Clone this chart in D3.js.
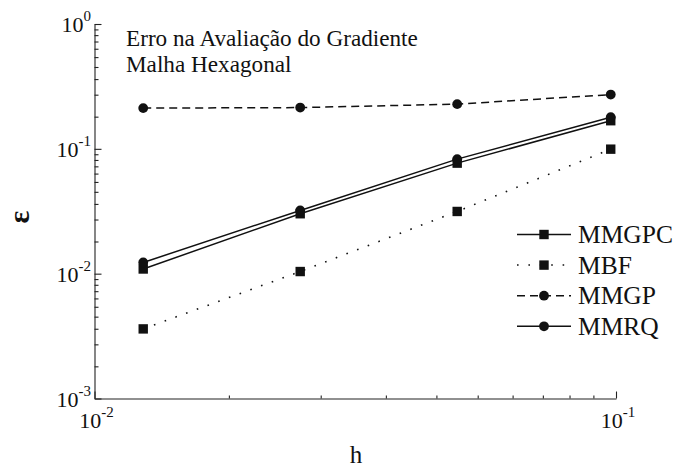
<!DOCTYPE html>
<html>
<head>
<meta charset="utf-8">
<script src="https://cdnjs.cloudflare.com/ajax/libs/d3/7.8.5/d3.min.js"></script>
<style>
  body { margin: 0; background: #fff; }
  svg { display: block; }
</style>
</head>
<body>
<svg width="675" height="468"></svg>
<script>
// data
var hValues = [0.0124, 0.0248, 0.0496, 0.0977];
var mmgpc = [0.0109, 0.0302, 0.0768, 0.168];
var mbf = [0.00361, 0.0104, 0.0315, 0.0994];
var mmgp = [0.212, 0.214, 0.228, 0.272];
var mmrq = [0.0123, 0.0321, 0.0827, 0.179];

var seriesNames = ['MMGPC', 'MBF', 'MMGP', 'MMRQ'];
var xMajor = [1e-2, 1e-1];
var yMajor = [1e-3, 1e-2, 1e-1, 1];
var xExp = ['-2', '-1'];
var yExp = ['-3', '-2', '-1', '0'];
var titleLines = ['Erro na Avaliação do Gradiente', 'Malha Hexagonal'];

var svg = d3.select('svg'),
    font = "'Liberation Serif', 'Times New Roman', Tinos, 'DejaVu Serif', serif",
    plotLeft = 94.5,
    plotRight = 616,
    plotTop = 24,
    plotBottom = 398.5,
    minorShift = 0.905;

var x = d3.scaleLog().domain([1e-2, 1e-1]).range([plotLeft, plotRight]),
    y = d3.scaleLog().domain([1e-3, 1]).range([plotBottom, plotTop]);

var series = [
    {name: seriesNames[0], values: mmgpc, dash: null, marker: 'square'},
    {name: seriesNames[1], values: mbf, dash: '1.6,9.8', marker: 'square'},
    {name: seriesNames[2], values: mmgp, dash: '8,5', marker: 'circle'},
    {name: seriesNames[3], values: mmrq, dash: null, marker: 'circle'}
];

drawAxes();
drawSeries();
drawLegend();
drawTexts();
svg.selectAll('text').attr('font-family', font).attr('fill', '#111');

function minorTicks(majors) {
    // the minor ticks of the original sit slightly off the decades
    var out = [];
    for (var i = 0; i < majors.length - 1; i++) {
        for (var k = 2; k <= 10; k++) {
            out.push(majors[i] * k * minorShift);
        }
    }
    return out;
}

function drawAxes() {
    var g = svg.append('g').attr('class', 'axes');

    var yMinor = g.append('g').attr('transform', 'translate(' + plotLeft + ',0)')
        .call(d3.axisRight(y).tickValues(minorTicks(yMajor)).tickSize(4).tickFormat(''));
    var yMaj = g.append('g').attr('transform', 'translate(' + plotLeft + ',0)')
        .call(d3.axisRight(y).tickValues(yMajor).tickSize(7).tickSizeOuter(0).tickFormat(''));
    var xMinor = g.append('g').attr('transform', 'translate(0,' + plotBottom + ')')
        .call(d3.axisTop(x).tickValues(minorTicks(xMajor)).tickSize(3).tickFormat(''));
    var xMaj = g.append('g').attr('transform', 'translate(0,' + plotBottom + ')')
        .call(d3.axisTop(x).tickValues(xMajor).tickSize(7).tickSizeOuter(0).tickFormat(''));

    yMinor.select('.domain').remove();
    xMinor.select('.domain').remove();
    g.selectAll('path, line').attr('stroke', '#222').attr('stroke-width', 1.1);

    // power-of-ten labels
    g.selectAll('.ylab').data(yMajor).enter().append('text')
        .attr('class', 'ylab')
        .attr('x', 91)
        .attr('y', function(d) { return y(d) + 8; })
        .attr('text-anchor', 'end')
        .attr('font-size', 22)
        .each(function(d, i) {
            var t = d3.select(this);
            t.append('tspan').text('10');
            t.append('tspan').attr('dy', -11).attr('font-size', 15).text(yExp[i]);
        });

    g.selectAll('.xlab').data(xMajor).enter().append('text')
        .attr('class', 'xlab')
        .attr('x', function(d) { return x(d) + 2; })
        .attr('y', 428)
        .attr('text-anchor', 'middle')
        .attr('font-size', 22)
        .each(function(d, i) {
            var t = d3.select(this);
            t.append('tspan').text('10');
            t.append('tspan').attr('dy', -11).attr('font-size', 15).text(xExp[i]);
        });
}

function addMarker(g, kind, cx, cy) {
    if (kind === 'square') {
        g.append('rect')
            .attr('x', cx - 4.7).attr('y', cy - 4.7)
            .attr('width', 9.4).attr('height', 9.4)
            .attr('fill', '#111');
    } else {
        g.append('circle')
            .attr('cx', cx).attr('cy', cy).attr('r', 4.9)
            .attr('fill', '#111');
    }
}

function drawSeries() {
    var line = d3.line()
        .x(function(d, i) { return x(hValues[i]); })
        .y(function(d) { return y(d); });

    for (var i = 0, l = series.length; i < l; i++) {
        var s = series[i],
            g = svg.append('g');
        g.append('path')
            .attr('d', line(s.values))
            .attr('fill', 'none')
            .attr('stroke', '#111')
            .attr('stroke-width', s.dash === '1.6,9.8' ? 1.6 : 1.5)
            .attr('stroke-dasharray', s.dash);
        for (var j = 0; j < s.values.length; j++) {
            addMarker(g, s.marker, x(hValues[j]), y(s.values[j]));
        }
    }
}

function drawLegend() {
    var g = svg.append('g'),
        x0 = 517,
        x1 = 571,
        y0 = 234.5,
        step = 30.6;
    for (var i = 0, l = series.length; i < l; i++) {
        var s = series[i],
            yy = y0 + i * step;
        g.append('line')
            .attr('x1', x0).attr('x2', x1)
            .attr('y1', yy).attr('y2', yy)
            .attr('stroke', '#111')
            .attr('stroke-width', 1.5)
            .attr('stroke-dasharray', s.dash);
        addMarker(g, s.marker, (x0 + x1) / 2, yy);
        g.append('text')
            .attr('x', 578)
            .attr('y', yy + 8.5)
            .attr('font-size', 25.5)
            .text(s.name);
    }
}

function drawTexts() {
    svg.selectAll('.title').data(titleLines).enter().append('text')
        .attr('class', 'title')
        .attr('x', 126)
        .attr('y', function(d, i) { return 46 + i * 25.7; })
        .attr('font-size', 23.2)
        .text(function(d) { return d; });

    svg.append('text')
        .attr('transform', 'translate(29,217) rotate(-90)')
        .attr('text-anchor', 'middle')
        .attr('font-size', 30)
        .attr('font-weight', 'bold')
        .text('ε');

    svg.append('text')
        .attr('x', 356)
        .attr('y', 462.5)
        .attr('text-anchor', 'middle')
        .attr('font-size', 25)
        .text('h');
}
</script>
</body>
</html>
